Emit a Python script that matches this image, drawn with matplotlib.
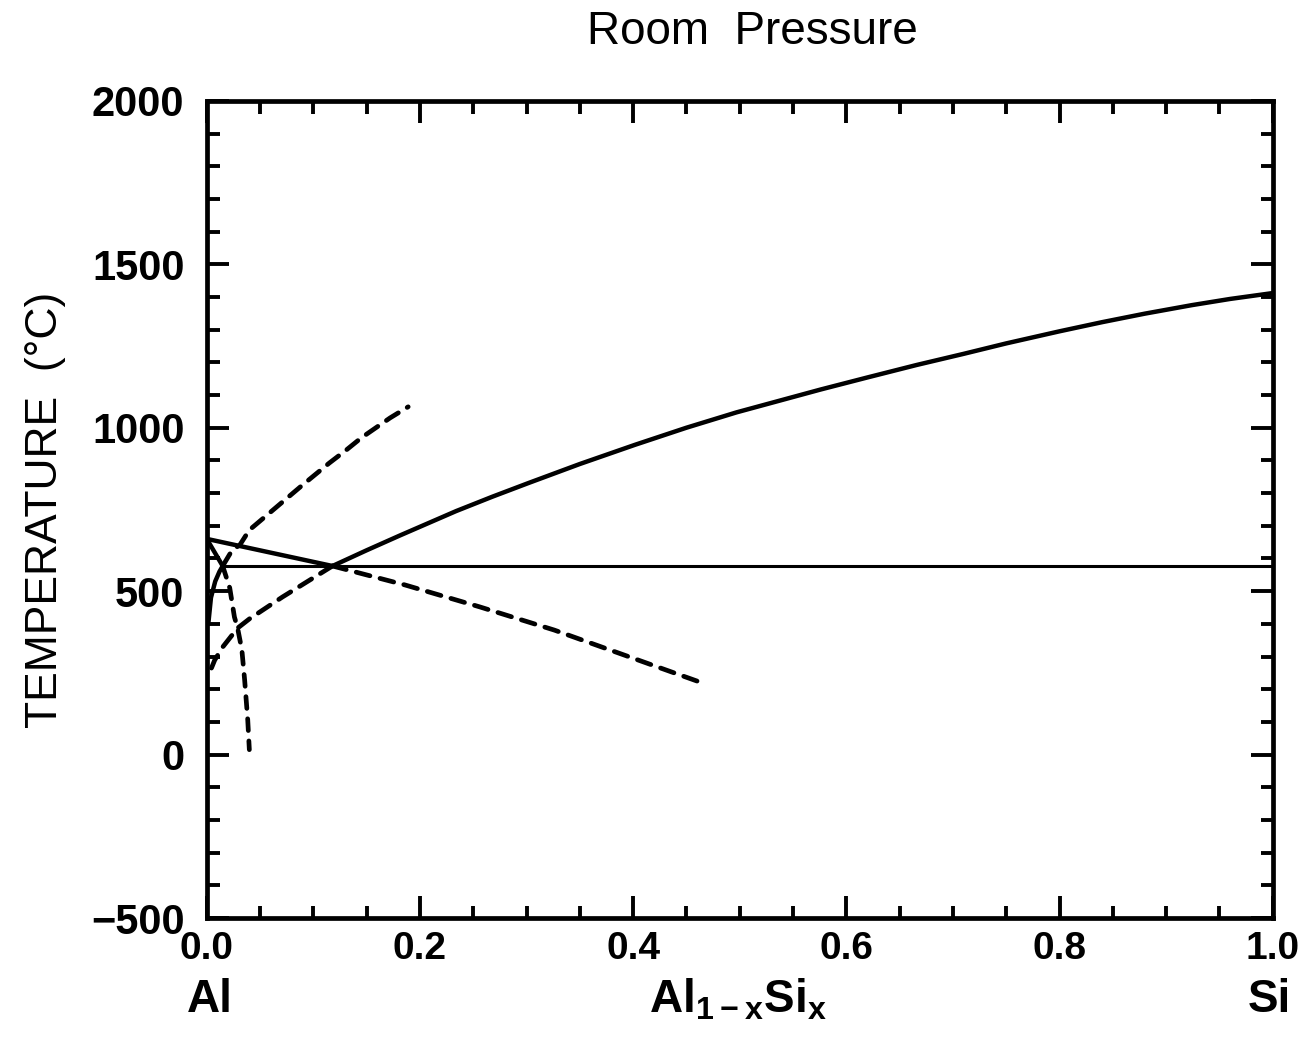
import numpy as np
import matplotlib
matplotlib.use('Agg')
import matplotlib.pyplot as plt
from matplotlib.ticker import MultipleLocator, FormatStrFormatter
import matplotlib.transforms as mtransforms

plt.rcParams['font.family'] = ['Liberation Sans', 'DejaVu Sans']
plt.rcParams['mathtext.fontset'] = 'custom'
plt.rcParams['mathtext.rm'] = 'Liberation Sans'
plt.rcParams['mathtext.bf'] = 'Liberation Sans:bold'

# Al liquidus (stable) and its metastable extension below the eutectic
al_liq_x = [0.0, 0.118]
al_liq_T = [660, 577]
al_liq_meta_x = [0.118, 0.186, 0.256, 0.326, 0.4625]
al_liq_meta_T = [577, 519, 452, 381, 222]

# Si liquidus (stable) and metastable extension
si_liq_x = [0.118, 0.150, 0.181, 0.234, 0.268, 0.302, 0.350, 0.402, 0.450,
            0.497, 0.576, 0.620, 0.666, 0.710, 0.750, 0.800, 0.840, 0.880, 0.924, 0.960, 1.0]
si_liq_T = [577, 625, 670, 745, 789, 831, 889, 948, 1000,
            1047, 1117, 1154, 1192, 1226, 1258, 1295, 1323, 1349, 1375, 1394, 1412]
si_liq_meta_x = [0.118, 0.071, 0.040, 0.029, 0.015, 0.0075, 0.001]
si_liq_meta_T = [577, 482, 415, 387, 329, 289, 237]

# Al solidus / solvus and their extensions
sol_x = [0.0, 0.015]
sol_T = [660, 577]
sol_meta_x = [0.015, 0.0216, 0.026, 0.029, 0.033, 0.0356, 0.0385, 0.040]
sol_meta_T = [577, 510, 421, 387, 320, 228, 106, 15]
solvus_x = [0.0015, 0.004, 0.008, 0.012, 0.015]
solvus_T = [400, 480, 530, 560, 577]
solvus_meta_x = [0.015, 0.024, 0.031, 0.040, 0.090, 0.115, 0.131, 0.145, 0.172, 0.189]
solvus_meta_T = [577, 626, 641, 687, 825, 892, 932, 969, 1030, 1064]

eutectic_x = [0.015, 1.0]
eutectic_T = [577, 577]

fig = plt.figure(figsize=(13, 10.4), dpi=100)
ax = fig.add_axes([0.159, 0.1173, 0.82, 0.7857])

solid = dict(color='black', lw=3.2, solid_capstyle='round', solid_joinstyle='round')
dash = dict(color='black', lw=3.4, dashes=(3, 2.2), dash_capstyle='round')

ax.plot(al_liq_x, al_liq_T, **solid)
ax.plot(al_liq_meta_x, al_liq_meta_T, **dash)
ax.plot(si_liq_x, si_liq_T, **solid)
ax.plot(si_liq_meta_x, si_liq_meta_T, **dash)
ax.plot(sol_x, sol_T, **solid)
ax.plot(sol_meta_x, sol_meta_T, color='black', lw=3.4, dashes=(2.5, 2.2), dash_capstyle='round')
ax.plot(solvus_x, solvus_T, **solid)
ax.plot(solvus_meta_x, solvus_meta_T, **dash)
ax.plot(eutectic_x, eutectic_T, color='black', lw=2.2)

ax.set_xlim(0, 1.0)
ax.set_ylim(-500, 2000)
ax.xaxis.set_major_locator(MultipleLocator(0.2))
ax.xaxis.set_minor_locator(MultipleLocator(0.05))
ax.xaxis.set_major_formatter(FormatStrFormatter('%.1f'))
ax.yaxis.set_major_locator(MultipleLocator(500))
ax.yaxis.set_minor_locator(MultipleLocator(100))
ax.tick_params(which='both', direction='in', top=True, right=True, width=2.8)
ax.tick_params(which='major', length=16)
ax.tick_params(which='minor', length=9)
ax.tick_params(axis='y', which='major', pad=16, labelsize=30)
ax.tick_params(axis='x', which='major', pad=9, labelsize=28)
for lab in ax.get_xticklabels() + ax.get_yticklabels():
    lab.set_fontweight('bold')
for s in ax.spines.values():
    s.set_linewidth(3.4)

ax.set_ylabel('TEMPERATURE  (°C)', fontsize=32, labelpad=18)

trans = mtransforms.blended_transform_factory(ax.transData, ax.transAxes)
ax.text(0.003, -0.100, 'Al', transform=trans, ha='center', va='center',
        fontsize=33, fontweight='bold')
ax.text(0.498, -0.100, r'Al$_{\mathbf{1-x}}$Si$_{\mathbf{x}}$', transform=trans,
        ha='center', va='center', fontsize=33, fontweight='bold')
ax.text(0.997, -0.100, 'Si', transform=trans, ha='center', va='center',
        fontsize=33, fontweight='bold')

fig.text(0.579, 0.969, 'Room  Pressure', ha='center', va='center', fontsize=33)

fig.savefig('out.png', dpi=100)
